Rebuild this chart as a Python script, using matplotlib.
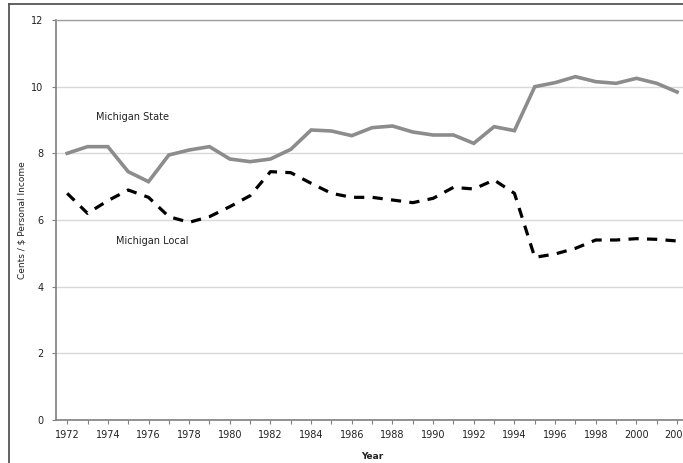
import matplotlib
matplotlib.use("Agg")
import matplotlib.pyplot as plt
from matplotlib.lines import Line2D
from matplotlib.ticker import MultipleLocator

years = list(range(1972, 2003))
state = [8.0, 8.2, 8.2, 7.45, 7.15, 7.95, 8.1, 8.2, 7.83, 7.75, 7.83, 8.12,
         8.7, 8.67, 8.53, 8.77, 8.82, 8.64, 8.55, 8.55, 8.3, 8.8, 8.68,
         10.0, 10.12, 10.3, 10.15, 10.1, 10.25, 10.1, 9.84]
local = [6.8, 6.2, 6.58, 6.9, 6.68, 6.1, 5.93, 6.1, 6.4, 6.73, 7.45, 7.42,
         7.1, 6.8, 6.68, 6.68, 6.6, 6.52, 6.65, 6.98, 6.93, 7.2, 6.8,
         4.88, 4.98, 5.15, 5.4, 5.4, 5.44, 5.42, 5.37]
xticks = list(range(1972, 2004, 2))
yticks = [0, 2, 4, 6, 8, 10, 12]

fig = plt.figure(figsize=(6.83, 4.63), dpi=100)
W, H = 683, 463
x0, x1 = 1971.45, 2003.0
pxyr = 20.33
left = 56 / W
width = (x1 - x0) * pxyr / W
bottom = 1 - 420 / H
height = 400 / H
ax = fig.add_axes([left, bottom, width, height])

ax.plot(years, state, color="#8c8c8c", lw=2.6, solid_joinstyle="miter", zorder=3)
ax.plot(years, local, color="black", lw=2.3, dashes=(3.2, 2.6), zorder=3)

ax.set_xlim(x0, x1)
ax.set_ylim(0, 12)
ax.set_xticks(xticks)
ax.set_xticklabels([str(t) for t in xticks])
ax.xaxis.set_minor_locator(MultipleLocator(1))
ax.set_yticks(yticks)
ax.grid(axis="y", color="#d9d9d9", lw=1.0, zorder=0)
ax.set_axisbelow(True)

for s in ["left", "bottom"]:
    ax.spines[s].set_color("#7f7f7f")
    ax.spines[s].set_linewidth(1.2)
ax.spines["top"].set_color("#a0a0a0")
ax.spines["top"].set_linewidth(1.0)
ax.spines["right"].set_visible(False)

ax.tick_params(axis="both", labelsize=7, colors="#7f7f7f", labelcolor="#222222",
               length=3, width=0.8)
ax.tick_params(axis="x", which="minor", length=3, width=0.8, colors="#7f7f7f")
ax.tick_params(axis="x", pad=4)
ax.tick_params(axis="y", pad=6)

ax.set_xlabel("Year", fontsize=6.5, fontweight="bold", color="#222222", labelpad=2)
ax.xaxis.set_label_coords((372 - 56) / (width * W), -(452 - 420) / 400)
ax.set_ylabel("Cents / $ Personal Income", fontsize=6.5, color="#222222")
ax.yaxis.set_label_coords(-(56 - 27) / (width * W), 0.5)

ax.text(1973.44, 9.09, "Michigan State", fontsize=7, color="#222222", va="center", ha="left")
ax.text(1974.42, 5.37, "Michigan Local", fontsize=7, color="#222222", va="center", ha="left")

# outer frame
fig.add_artist(Line2D([9 / W, 9 / W], [0, 1 - 4 / H], transform=fig.transFigure,
                      color="#555555", lw=1.3))
fig.add_artist(Line2D([9 / W, 1], [1 - 4 / H, 1 - 4 / H], transform=fig.transFigure,
                      color="#555555", lw=1.3))

fig.savefig("out.png", dpi=100)
